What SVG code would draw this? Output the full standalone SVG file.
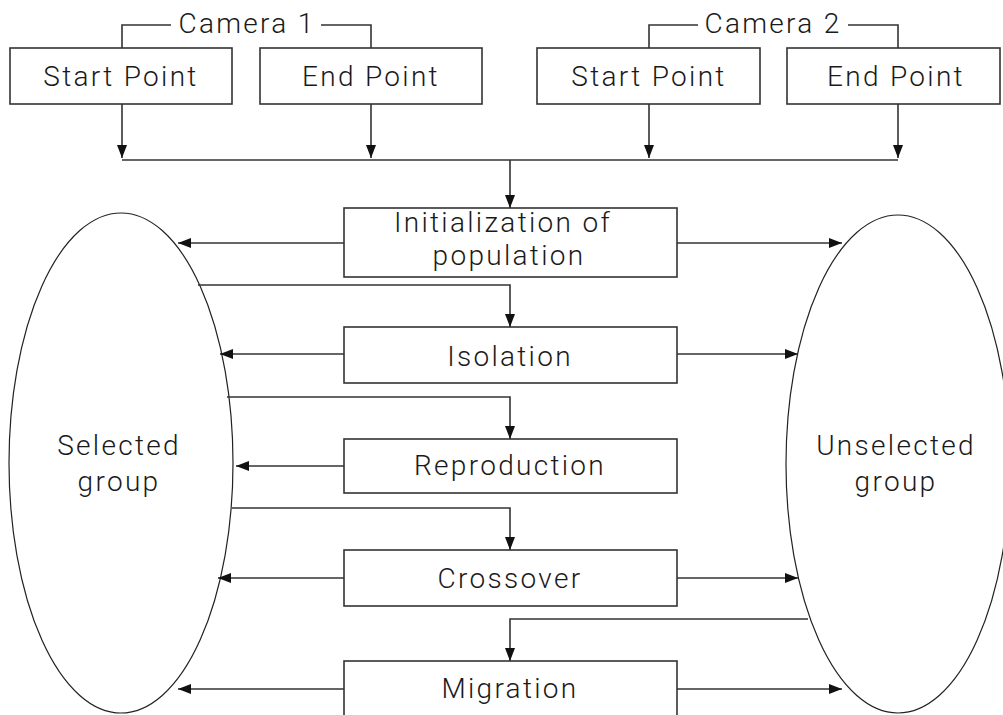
<svg xmlns="http://www.w3.org/2000/svg" width="1003" height="715" viewBox="0 0 1003 715">
<style>
.box{fill:#fff;stroke:#333;stroke-width:1.6}
.ell{fill:none;stroke:#222;stroke-width:1.2}
.ln{fill:none;stroke:#333;stroke-width:1.6}
.t{font-family:Roboto,"Liberation Sans",sans-serif;font-weight:300;font-size:28px;letter-spacing:2.3px;fill:#1a1a1a;text-anchor:middle}
</style>
<defs>
<marker id="ah" viewBox="0 0 13 10" refX="13" refY="5" markerWidth="13" markerHeight="10" markerUnits="userSpaceOnUse" orient="auto">
<path d="M0,0 L13,5 L0,10 Z" fill="#111"/>
</marker>
</defs>
<rect width="1003" height="715" fill="#fff"/>
<g id="cam1">
<path class="ln" d="M122,48 V25 H171 M321,25 H371 V48"/>
<text class="t" x="247" y="33">Camera 1</text>
</g>
<g id="cam2">
<path class="ln" d="M649,48 V25 H698 M848,25 H898 V48"/>
<text class="t" x="773" y="33">Camera 2</text>
</g>
<g id="c1start"><rect class="box" x="10" y="48" width="222" height="56"/><text class="t" x="121" y="86">Start Point</text></g>
<g id="c1end"><rect class="box" x="260" y="48" width="222" height="56"/><text class="t" x="371" y="86">End Point</text></g>
<g id="c2start"><rect class="box" x="537" y="48" width="223" height="56"/><text class="t" x="649" y="86">Start Point</text></g>
<g id="c2end"><rect class="box" x="787" y="48" width="213" height="56"/><text class="t" x="896" y="86">End Point</text></g>
<g id="selected"><ellipse class="ell" cx="121" cy="463" rx="112" ry="250"/><text class="t" x="119" y="455">Selected</text><text class="t" x="119" y="491">group</text></g>
<g id="unselected"><ellipse class="ell" cx="898" cy="464" rx="112" ry="249"/><text class="t" x="896" y="455">Unselected</text><text class="t" x="896" y="491">group</text></g>
<g id="init"><rect class="box" x="344" y="208" width="333" height="69"/><text class="t" x="503" y="232">Initialization of</text><text class="t" x="509" y="265">population</text></g>
<g id="isolation"><rect class="box" x="344" y="327" width="333" height="56"/><text class="t" x="510" y="366">Isolation</text></g>
<g id="reproduction"><rect class="box" x="344" y="439" width="333" height="54"/><text class="t" x="510" y="475">Reproduction</text></g>
<g id="crossover"><rect class="box" x="344" y="550" width="333" height="56"/><text class="t" x="510" y="588">Crossover</text></g>
<g id="migration"><rect class="box" x="344" y="661" width="333" height="70"/><text class="t" x="510" y="698">Migration</text></g>
<g id="connectors">
<path class="ln" d="M122,104 V158" marker-end="url(#ah)"/>
<path class="ln" d="M371,104 V158" marker-end="url(#ah)"/>
<path class="ln" d="M649,104 V158" marker-end="url(#ah)"/>
<path class="ln" d="M898,104 V158" marker-end="url(#ah)"/>
<path class="ln" d="M122,160 H898"/>
<path class="ln" d="M510,160 V208" marker-end="url(#ah)"/>
<path class="ln" d="M344,243 H178" marker-end="url(#ah)"/>
<path class="ln" d="M677,243 H842" marker-end="url(#ah)"/>
<path class="ln" d="M198,285 H510 V327" marker-end="url(#ah)"/>
<path class="ln" d="M344,354 H220" marker-end="url(#ah)"/>
<path class="ln" d="M677,354 H798" marker-end="url(#ah)"/>
<path class="ln" d="M227,397 H510 V439" marker-end="url(#ah)"/>
<path class="ln" d="M344,466 H236" marker-end="url(#ah)"/>
<path class="ln" d="M232,508 H510 V550" marker-end="url(#ah)"/>
<path class="ln" d="M344,578 H218" marker-end="url(#ah)"/>
<path class="ln" d="M677,578 H798" marker-end="url(#ah)"/>
<path class="ln" d="M808,619 H510 V661" marker-end="url(#ah)"/>
<path class="ln" d="M344,689 H178" marker-end="url(#ah)"/>
<path class="ln" d="M677,689 H842" marker-end="url(#ah)"/>
</g>
</svg>
